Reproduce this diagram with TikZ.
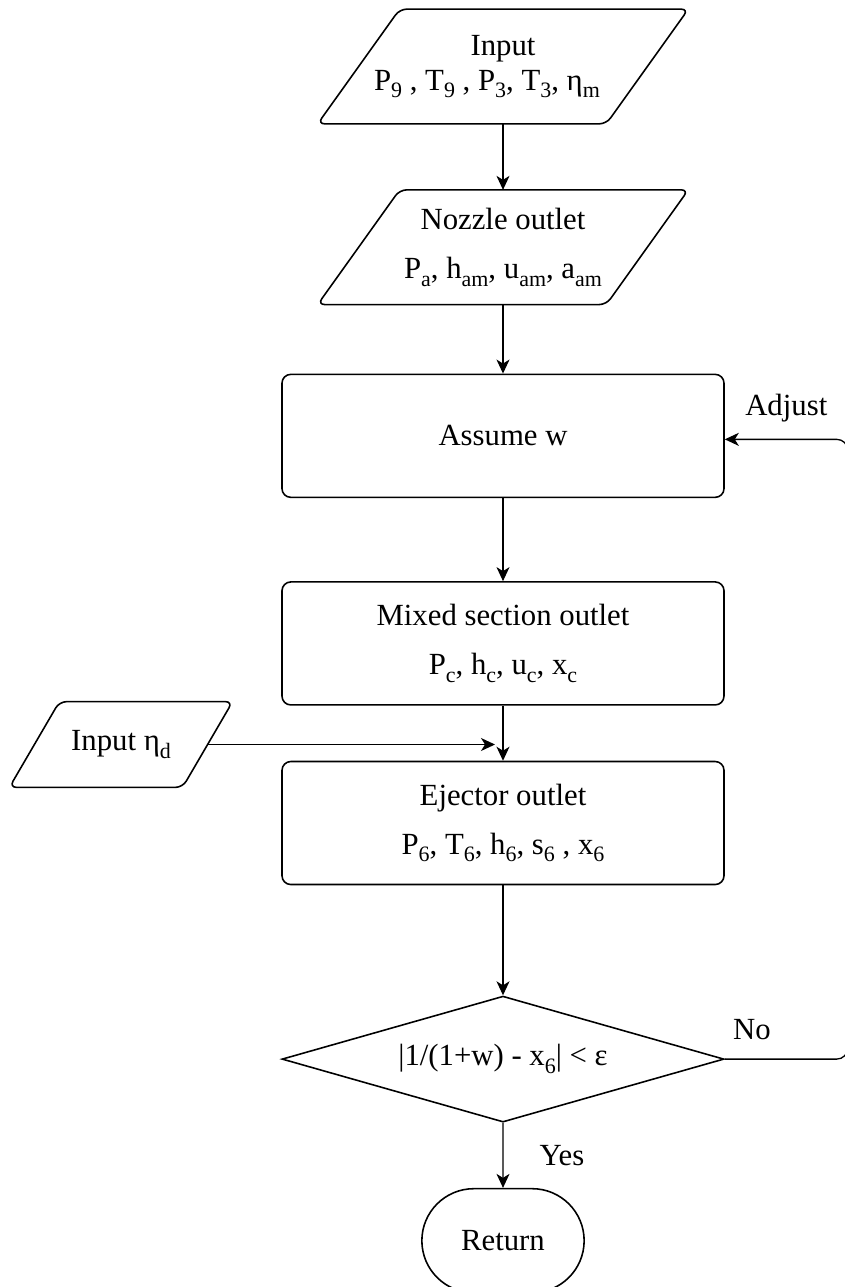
\documentclass[tikz,border=0pt]{standalone}
\usepackage{fontspec}
\setmainfont{Liberation Serif}
\usetikzlibrary{
  shapes.geometric, shapes.misc, arrows.meta, positioning, calc
}
\definecolor{flowdark}{HTML}{000000}
\newcommand{\lowsub}[1]{\raisebox{-0.24em}{\fontsize{12.5}{12.5}\selectfont #1}}
% slanted frame round a named node (#2 = half of the slant)
\newcommand{\ioframe}[2]{%
  \draw[ioline] ([xshift=-#2]#1.south west) -- ([xshift=#2]#1.north west)
    -- ([xshift=#2]#1.north east) -- ([xshift=-#2]#1.south east) -- cycle;}

\begin{document}
\begin{tikzpicture}[
  node distance=1.3cm,
  font=\fontsize{17.5}{22}\selectfont,
  iobox/.style={
    rectangle, minimum width=5.76cm, minimum height=2.28cm,
    align=center, inner sep=2pt
  },
  ioline/.style={draw=flowdark, line width=0.9pt, rounded corners=4pt},
  procbox/.style={
    rectangle, rounded corners=5pt,
    minimum width=8.84cm, minimum height=2.46cm,
    draw=flowdark, line width=0.9pt, align=center
  },
  decbox/.style={
    diamond, aspect=3.5, inner sep=0pt,
    minimum width=8.84cm, minimum height=2.52cm,
    draw=flowdark, line width=0.9pt
  },
  endbox/.style={
    rounded rectangle, minimum width=3.48cm, minimum height=2.08cm,
    draw=flowdark, line width=0.9pt
  },
  arr/.style={-{Stealth[length=0.28cm, width=0.26cm, inset=0.08cm]},
    line width=0.75pt, flowdark}
]
  \useasboundingbox (0,0) rectangle (16.88,-25.74);

  % Inputs
  \node[iobox] (input) at (10.06,-1.33)
    {Input\\[-2pt]P\lowsub{9} , T\lowsub{9} , P\lowsub{3}, T\lowsub{3}, η\lowsub{m}\kern0.64cm};
  \node[iobox, below=1.32cm of input] (nozzle)
    {Nozzle outlet\\[6pt]P\lowsub{a}, h\lowsub{am}, u\lowsub{am}, a\lowsub{am}};
  \ioframe{input}{0.82cm}
  \ioframe{nozzle}{0.82cm}

  % Main loop
  \node[procbox, below=1.38cm of nozzle] (assume) {Assume w};
  \node[procbox, below=1.66cm of assume] (mixed)
    {Mixed section outlet\\[6pt]P\lowsub{c}, h\lowsub{c}, u\lowsub{c}, x\lowsub{c}};
  \node[procbox, below=1.1cm of mixed] (eject)
    {Ejector outlet\\[6pt]P\lowsub{6}, T\lowsub{6}, h\lowsub{6}, s\lowsub{6} , x\lowsub{6}};
  \node[decbox, below=2.2cm of eject] (check)
    {|1/(1+w) - x\lowsub{6}| < ε};
  \node[endbox, below=1.3cm of check] (ret) {Return};

  % Diffuser efficiency
  \node[iobox, minimum width=3.45cm, minimum height=1.7cm] (etad) at (2.42,-14.89)
    {Input η\lowsub{d}};
  \ioframe{etad}{0.5cm}
  \coordinate (merge) at ([xshift=-0.16cm]etad.east -| mixed.south);

  \draw[arr] (input) -- (nozzle);
  \draw[arr] (nozzle) -- (assume);
  \draw[arr] (assume) -- (mixed);
  \draw[arr] (mixed) -- (eject);
  \draw[arr] (etad.east) -- (merge);
  \draw[arr] (eject) -- (check);
  \draw[arr] (check) -- (ret)
    node[midway, right=0.6cm] {Yes};
  \draw[arr, rounded corners=0.22cm] (check.east) -- ++(2.46,0)
    node[pos=0.22, above=0.26cm] {No}
    |- ([yshift=-0.07cm]assume.east)
    node[pos=0.75, above=0.22cm] {Adjust};
\end{tikzpicture}
\end{document}
